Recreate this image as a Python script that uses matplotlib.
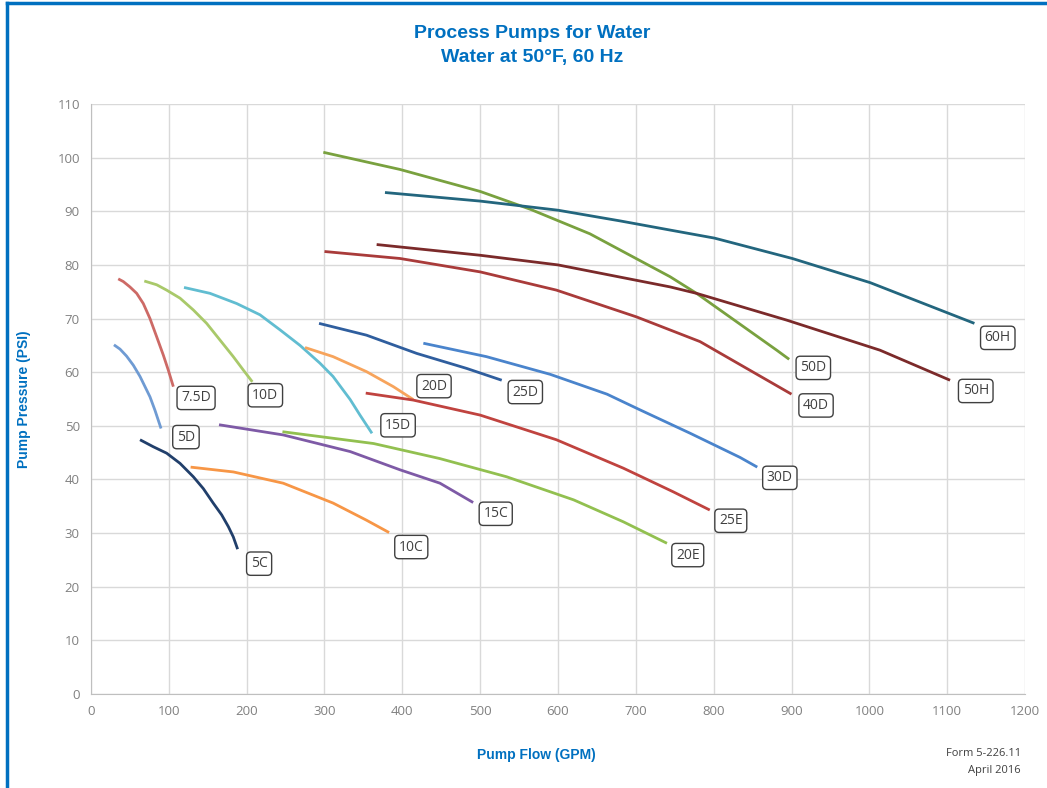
import matplotlib as mpl
mpl.use('Agg')
import matplotlib.pyplot as plt
from matplotlib.lines import Line2D

# pump curves: flow (GPM), pressure (PSI)
pumps = ["5D", "7.5D", "10D", "15D", "20D", "25D", "30D", "5C",
         "10C", "15C", "20E", "25E", "40D", "50D", "50H", "60H"]

flow_5D = [29.5, 37.3, 45.7, 54.4, 63, 69.4, 75.8, 82.2, 90]
psi_5D = [65.1, 64.3, 63.0, 61.3, 59.2, 57.3, 55.4, 52.9, 49.5]
flow_7_5D = [35, 41.5, 50, 58.7, 67.2, 75.8, 84.4, 92.9, 99.3, 105.8]
psi_7_5D = [77.4, 76.9, 75.9, 74.7, 72.8, 70.0, 66.6, 63.2, 60.4, 57.3]
flow_10D = [68.5, 84.4, 97.2, 114.4, 131.5, 148.6, 165.7, 182.8, 195.7, 207.3]
psi_10D = [77.0, 76.3, 75.3, 73.8, 71.6, 69.1, 66.0, 62.9, 60.4, 58.2]
flow_15D = [119.5, 152.9, 187.2, 217.1, 242.8, 268.5, 294, 311, 333, 345.6, 361]
psi_15D = [75.8, 74.7, 72.8, 70.7, 67.9, 65.0, 61.7, 59.2, 54.9, 52.0, 48.6]
flow_20D = [275, 311, 354, 388.5, 414]
psi_20D = [64.6, 62.9, 60.1, 57.3, 54.9]
flow_25D = [293, 354, 418.5, 482.7, 527.7]
psi_25D = [69.1, 66.9, 63.5, 60.7, 58.5]
flow_30D = [427, 508, 590, 663, 705, 770, 834, 856]
psi_30D = [65.4, 62.9, 59.6, 55.9, 53.0, 48.6, 44.1, 42.3]
flow_5C = [63, 80, 97.2, 114.4, 131.5, 144.3, 157, 167.9, 176.5, 182.8, 188.4]
psi_5C = [47.4, 46.1, 44.9, 43.0, 40.5, 38.3, 35.6, 33.4, 31.2, 29.3, 27.0]
flow_10C = [128, 183, 247, 311, 354, 383]
psi_10C = [42.3, 41.4, 39.3, 35.6, 32.4, 30.1]
flow_15C = [164.5, 247, 333, 397, 448.4, 491]
psi_15C = [50.2, 48.3, 45.2, 41.8, 39.3, 35.7]
flow_20E = [246, 363, 448, 534, 620, 684, 740]
psi_20E = [48.9, 46.7, 43.9, 40.5, 36.2, 32.1, 28.1]
flow_25E = [353, 414, 500, 598, 684, 748, 795]
psi_25E = [56.1, 54.8, 52.0, 47.4, 42.1, 37.7, 34.3]
flow_40D = [300, 397, 500, 598, 701, 782.5, 900]
psi_40D = [82.5, 81.2, 78.7, 75.3, 70.3, 65.7, 55.9]
flow_50D = [298.5, 397, 500, 564, 641, 744, 778, 881, 897]
psi_50D = [101.0, 97.8, 93.7, 90.4, 85.8, 77.8, 74.7, 64.1, 62.4]
flow_50H = [367, 500, 600, 744, 778, 894, 1013.7, 1103.7]
psi_50H = [83.8, 81.8, 80.0, 75.9, 74.7, 69.7, 64.1, 58.5]
flow_60H = [377.7, 500, 600, 680, 744, 801, 901, 1001, 1135]
psi_60H = [93.5, 91.9, 90.2, 88.2, 86.5, 85.0, 81.2, 76.7, 69.1]

flows = [flow_5D, flow_7_5D, flow_10D, flow_15D, flow_20D, flow_25D, flow_30D,
         flow_5C, flow_10C, flow_15C, flow_20E, flow_25E, flow_40D, flow_50D,
         flow_50H, flow_60H]
psis = [psi_5D, psi_7_5D, psi_10D, psi_15D, psi_20D, psi_25D, psi_30D,
        psi_5C, psi_10C, psi_15C, psi_20E, psi_25E, psi_40D, psi_50D,
        psi_50H, psi_60H]

# label box centres (GPM, PSI)
label_x = [122, 135, 224, 394.5, 440.7, 558, 885, 216,
           411.5, 520, 766.7, 822, 931.5, 928, 1136.7, 1165]
label_y = [47.9, 55.2, 55.7, 50.1, 57.4, 56.3, 40.3, 24.3,
           27.4, 33.6, 25.9, 32.3, 53.8, 60.8, 56.5, 66.4]

colors = ["#6f9bd3", "#cd6a66", "#a9c96a", "#61bdd1", "#f7a45c", "#2f5e9e",
          "#4a84cc", "#213f6b", "#f79646", "#7e5aa6", "#92c050", "#c0433f",
          "#a93b3a", "#79a13f", "#7b2a2a", "#23667e"]

title_font = ['Liberation Sans', 'DejaVu Sans']
blue = "#0070c0"

fig = plt.figure(figsize=(10.47, 7.88), dpi=100)
ax = fig.add_axes([0.0869, 0.1193, 0.8921, 0.7487])

for fx, py, c in zip(flows, psis, colors):
    ax.plot(fx, py, color=c, linewidth=2, solid_capstyle='butt',
            solid_joinstyle='round')

for name, lx, ly in zip(pumps, label_x, label_y):
    ax.text(lx, ly, name, ha='center', va='center', fontsize=10,
            family='Open Sans', color='#404040',
            bbox=dict(boxstyle='round,pad=0.3,rounding_size=0.3',
                      facecolor='white', edgecolor='#404040', linewidth=1))

ax.set_xlim(0, 1200)
ax.set_ylim(0, 110)
ax.set_xticks(range(0, 1201, 100))
ax.set_yticks(range(0, 111, 10))
ax.grid(True, color='#d9d9d9', linewidth=1)
ax.set_axisbelow(True)
for s in ['top', 'right']:
    ax.spines[s].set_visible(False)
for s in ['left', 'bottom']:
    ax.spines[s].set_color('#bfbfbf')
ax.tick_params(length=0, labelsize=9.5, labelcolor='#808080', pad=8)
for lab in ax.get_xticklabels() + ax.get_yticklabels():
    lab.set_family('Open Sans')

ax.set_xlabel("Pump Flow (GPM)", fontsize=10, fontweight='bold',
              family=title_font, color=blue)
ax.set_ylabel("Pump Pressure (PSI)", fontsize=10, fontweight='bold',
              family=title_font, color=blue)
ax.xaxis.set_label_coords(0.477, -0.0915)
ax.yaxis.set_label_coords(-0.064, 0.5)

fig.text(0.508, 0.958, "Process Pumps for Water", ha='center', va='center',
         fontsize=14, fontweight='bold', family=title_font, color=blue)
fig.text(0.508, 0.927, "Water at 50°F, 60 Hz", ha='center', va='center',
         fontsize=14, fontweight='bold', family=title_font, color=blue)

fig.text(0.975, 0.044, "Form 5-226.11", ha='right', va='center',
         fontsize=8, family='Open Sans', color='#404040')
fig.text(0.975, 0.022, "April 2016", ha='right', va='center',
         fontsize=8, family='Open Sans', color='#404040')

# blue frame at the left and top edges
fig.add_artist(Line2D([0.0064, 0.0064], [0, 0.996], color=blue, linewidth=2.5,
                      transform=fig.transFigure))
fig.add_artist(Line2D([0.0064, 1], [0.996, 0.996], color=blue, linewidth=2.5,
                      transform=fig.transFigure))

fig.savefig('out.png', dpi=100)
